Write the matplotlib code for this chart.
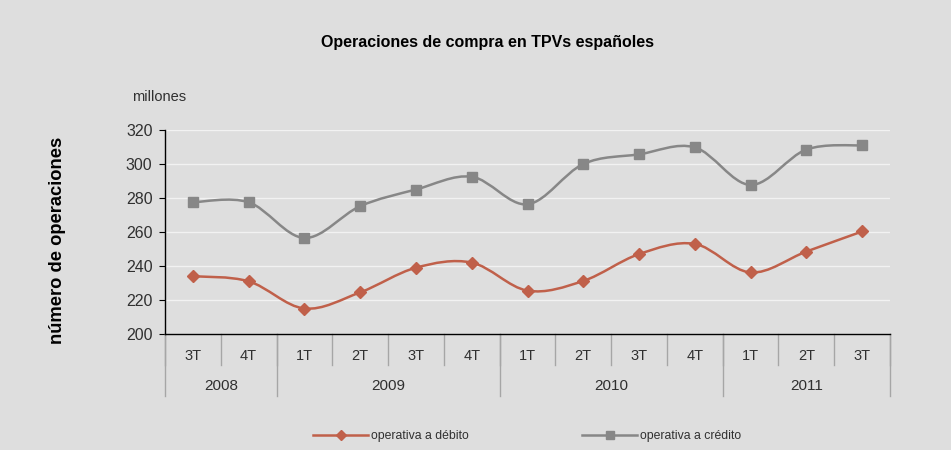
import numpy as np
import matplotlib.pyplot as plt
from matplotlib.path import Path
from matplotlib.patches import PathPatch
from matplotlib.lines import Line2D
import matplotlib.transforms as mtransforms

plt.rcParams['font.family'] = ['Liberation Sans', 'DejaVu Sans']

# data (millones de operaciones)
quarters = ['3T', '4T', '1T', '2T', '3T', '4T', '1T', '2T', '3T', '4T', '1T', '2T', '3T']
years = ['2008', '2009', '2010', '2011']
year_sizes = [2, 4, 4, 3]
debito = [234.0, 231.0, 215.0, 224.5, 239.0, 242.0, 225.5, 231.2, 247.0, 253.0, 236.2, 248.5, 260.3]
credito = [277.5, 277.5, 256.5, 275.2, 285.0, 292.5, 276.3, 300.0, 305.7, 309.8, 287.7, 308.5, 311.0]

bg = '#dedede'
col_deb = '#c0604a'
col_cre = '#878787'
txt = '#303030'


def smooth_path(xs, ys):
    # bezier through the points, like the spreadsheet "smoothed line"
    p = np.column_stack([xs, ys]).astype(float)
    n = len(p)
    verts = [p[0]]
    codes = [Path.MOVETO]
    for i in range(n - 1):
        p0 = p[i - 1] if i > 0 else p[i]
        p3 = p[i + 2] if i + 2 < n else p[i + 1]
        c1 = p[i] + (p[i + 1] - p0) / 6.0
        c2 = p[i + 1] - (p3 - p[i]) / 6.0
        verts += [c1, c2, p[i + 1]]
        codes += [Path.CURVE4] * 3
    return Path(verts, codes)


fig = plt.figure(figsize=(9.51, 4.5), dpi=100, facecolor=bg)
ax = fig.add_axes([165 / 951, 1 - 334 / 450, 725 / 951, 204 / 450])
ax.set_facecolor(bg)

x = np.arange(len(quarters))

for vals, col, mk, ms in [(debito, col_deb, 'D', 6.5), (credito, col_cre, 's', 7.5)]:
    ax.add_patch(PathPatch(smooth_path(x, vals), facecolor='none', edgecolor=col, lw=1.8, zorder=3))
    ax.plot(x, vals, linestyle='none', marker=mk, ms=ms, color=col, zorder=4)

ax.set_xlim(-0.5, len(quarters) - 0.5)
ax.set_ylim(200, 320)
ax.set_yticks(np.arange(200, 321, 20))
ax.yaxis.grid(True, color='#f2f2f2', lw=1.0)
ax.set_axisbelow(True)
ax.tick_params(axis='y', length=4, width=0.8, colors='black', labelcolor=txt, labelsize=11.5, pad=5)
ax.set_xticks([])
for s in ['top', 'right']:
    ax.spines[s].set_visible(False)
ax.spines['left'].set_linewidth(1.0)
ax.spines['bottom'].set_linewidth(1.0)

# two level category axis
trans = mtransforms.blended_transform_factory(ax.transData, ax.transAxes)
sep_col = '#a6a6a6'
for k in range(len(quarters) + 1):
    ax.plot([k - 0.5, k - 0.5], [0, -0.152], transform=trans, color=sep_col, lw=1.0, clip_on=False)
for i, q in enumerate(quarters):
    ax.text(i, -0.106, q, transform=trans, ha='center', va='center', fontsize=10.5, color=txt)
start = 0
for yname, size in zip(years, year_sizes):
    ax.plot([start - 0.5, start - 0.5], [0, -0.304], transform=trans, color=sep_col, lw=1.0, clip_on=False)
    ax.text(start + (size - 1) / 2.0, -0.253, yname, transform=trans, ha='center', va='center',
            fontsize=11, color=txt)
    start += size
ax.plot([start - 0.5, start - 0.5], [0, -0.304], transform=trans, color=sep_col, lw=1.0, clip_on=False)

fig.text(487 / 951, 1 - 42 / 450, 'Operaciones de compra en TPVs españoles', ha='center', va='center',
         fontsize=11.5, fontweight='bold', color='black')
fig.text(132 / 951, 1 - 97 / 450, 'millones', ha='left', va='center', fontsize=10.5, color=txt)
fig.text(57 / 951, 1 - 240 / 450, 'número de operaciones', ha='center', va='center', rotation=90,
         fontsize=13.2, fontweight='bold', color='black')

handles = [Line2D([], [], color=col_deb, lw=1.8, marker='D', ms=5),
           Line2D([], [], color=col_cre, lw=1.8, marker='s', ms=6)]
fig.legend(handles, ['operativa a débito', 'operativa a crédito'], loc='center', ncol=2,
           bbox_to_anchor=(527 / 951, 1 - 436 / 450), frameon=False, fontsize=8.8,
           handlelength=4.5, handletextpad=0.2, columnspacing=9.3, labelcolor=txt)

fig.savefig('out.png', dpi=100, facecolor=bg)
